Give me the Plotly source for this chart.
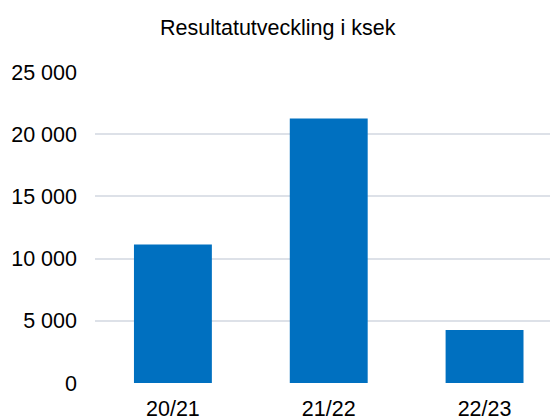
import plotly.graph_objects as go

years = ["20/21", "21/22", "22/23"]
result_ksek = [11130, 21270, 4270]
y_ticks = [0, 5000, 10000, 15000, 20000, 25000]

fig = go.Figure(go.Bar(
    x=years,
    y=result_ksek,
    marker=dict(color="#0070C0", line=dict(width=0)),
))

fig.update_layout(
    width=550,
    height=416,
    margin=dict(l=95, r=0, t=72, b=33),
    paper_bgcolor="white",
    plot_bgcolor="white",
    separators=", ",
    bargap=0.5,
    showlegend=False,
    font=dict(family="Liberation Sans, Arial, sans-serif", size=21.5, color="#000000"),
    title=dict(
        text="Resultatutveckling i ksek",
        x=0.505,
        xanchor="center",
        y=0.935,
        yanchor="middle",
        font=dict(size=21.5, color="#000000"),
    ),
)

fig.update_xaxes(
    range=[-0.5, 2.42],
    showgrid=False,
    zeroline=False,
    showline=False,
    ticks="",
    ticklabelstandoff=10,
    automargin=False,
)
fig.update_yaxes(
    range=[0, 25000],
    tickvals=y_ticks,
    tickformat=",d",
    showgrid=True,
    gridcolor="#DDE1E8",
    gridwidth=2,
    zeroline=False,
    showline=False,
    ticks="",
    ticklabelstandoff=17,
    automargin=False,
)

# page body has an 8px default margin, drop it so the chart sits at 0,0
fig.write_html(
    "out.html",
    config={"displayModeBar": False},
    post_script="document.body.style.margin='0';",
)
